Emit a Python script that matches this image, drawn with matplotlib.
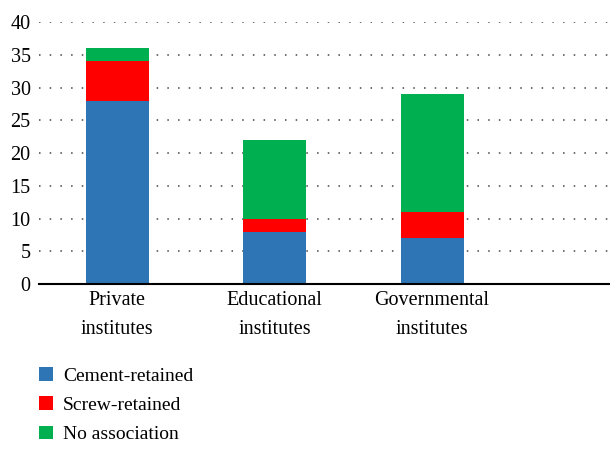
import numpy as np
import matplotlib.pyplot as plt

# data
categories = ["Private\ninstitutes", "Educational\ninstitutes", "Governmental\ninstitutes"]
cement = [28, 8, 7]
screw = [6, 2, 4]
no_assoc = [2, 12, 18]
series_names = ["Cement-retained", "Screw-retained", "No association"]
colors = ["#2E75B6", "#FF0000", "#00B050"]

plt.rcParams['font.family'] = ['Liberation Serif', 'DejaVu Serif']

fig = plt.figure(figsize=(6.1, 4.53), dpi=100)
ax = fig.add_axes([0.064, 0.373, 0.936, 0.578])

x = np.arange(len(categories))
w = 0.4
bottom = np.zeros(len(categories))
for vals, name, col in zip([cement, screw, no_assoc], series_names, colors):
    ax.bar(x, vals, w, bottom=bottom, color=col, label=name, zorder=3)
    bottom += np.array(vals)

ax.set_ylim(0, 40)
ax.set_xlim(-0.495, 3.13)
ax.set_yticks(range(0, 41, 5))
ax.set_xticks(x)
ax.set_xticklabels(categories, fontsize=14.5, linespacing=1.75)
ax.tick_params(axis='y', labelsize=14.5, length=0, pad=6)
ax.tick_params(axis='x', length=0, pad=5)
ax.yaxis.grid(True, linestyle=(0, (1, 6)), color='#444444', linewidth=1.1, zorder=0)

for s in ['top', 'right', 'left']:
    ax.spines[s].set_visible(False)
ax.spines['bottom'].set_linewidth(1.5)
ax.spines['bottom'].set_zorder(4)

fig.legend(loc='upper left', bbox_to_anchor=(0.052, 0.207), frameon=False,
           fontsize=14, handlelength=0.7, handleheight=0.7, handletextpad=0.5,
           labelspacing=0.6, borderaxespad=0)

fig.savefig("out.png", dpi=100)
